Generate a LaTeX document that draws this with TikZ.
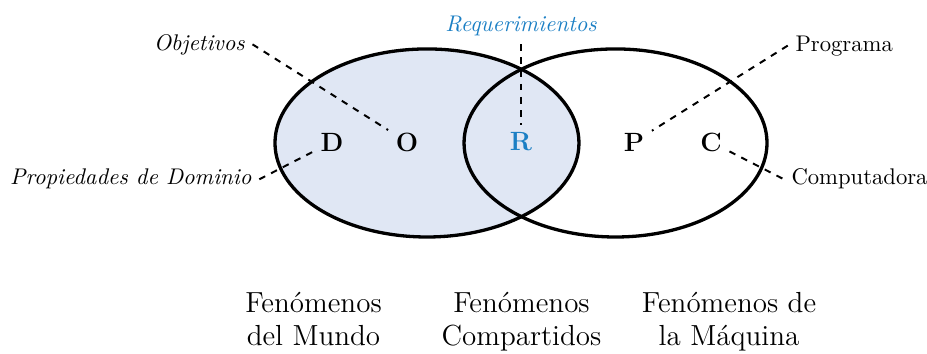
\documentclass[tikz,border=0pt]{standalone}
\usepackage{tikz}
\usepackage{color}
\definecolor{mundo}{RGB}{224,231,244}
\definecolor{reqazul}{RGB}{27,127,196}

\begin{document}
\begin{tikzpicture}[
  letra/.style={font=\large\bfseries},
  etiq/.style={font=\fontsize{10.3}{12}\selectfont},
  guia/.style={dashed,line width=0.9pt},
  conjunto/.style={line width=1.5pt},
  fenom/.style={font=\fontsize{13.2}{15}\selectfont,align=center,anchor=north}]
\useasboundingbox (0.000,0.000) rectangle (14.809,5.655);
%
% path: mundo y maquina
\fill[mundo] (6.821,3.371) ellipse (2.428 and 1.502);
\draw[conjunto] (6.821,3.371) ellipse (2.428 and 1.502);
\draw[conjunto] (9.833,3.371) ellipse (2.420 and 1.502);
%
% letras
\node[letra] (D) at (5.304,3.387) {D};
\node[letra] (O) at (6.502,3.387) {O};
\node[letra,text=reqazul] (R) at (8.323,3.387) {R};
\node[letra] (P) at (10.128,3.387) {P};
\node[letra] (C) at (11.358,3.387) {C};
%
% etiquetas
\node[etiq,anchor=base east] (obj) at (4.034,4.856) {\itshape Objetivos};
\node[etiq,anchor=base east] (prop) at (4.142,2.700) {\itshape Propiedades de Dominio};
\node[etiq,anchor=base,text=reqazul] (req) at (8.323,5.144) {\itshape Requerimientos};
\node[etiq,anchor=base west] (prog) at (12.584,4.840) {Programa};
\node[etiq,anchor=base west] (comp) at (12.520,2.700) {Computadora};
%
% path: guias
\draw[guia] (obj.east) -- (O);
\draw[guia] (prop.east) -- (D);
\draw[guia] (req) -- (R);
\draw[guia] (prog.west) -- (P);
\draw[guia] (C) -- (comp.west);
%
% fenomenos
\node[fenom] (fmundo) at (5.008,1.112) {Fen\'omenos\\del Mundo};
\node[fenom] (fcomp) at (8.331,1.112) {Fen\'omenos\\Compartidos};
\node[fenom] (fmaq) at (11.646,1.112) {Fen\'omenos de\\la M\'aquina};

\end{tikzpicture}
\end{document}
